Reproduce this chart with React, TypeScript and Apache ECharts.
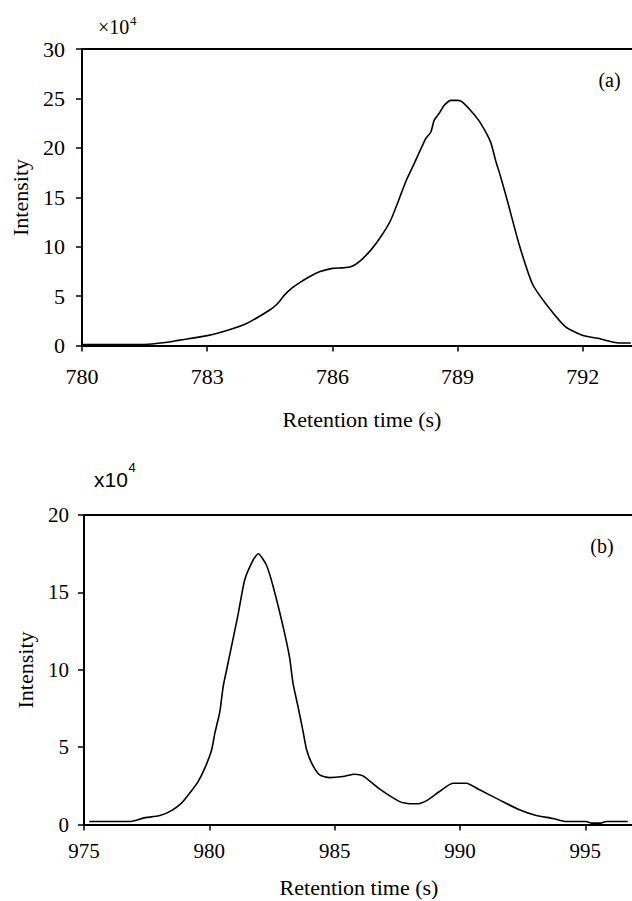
import React, { useEffect, useRef } from "react";
import * as echarts from "echarts";

// Panel (a)
const timeA = [780, 780.5, 781, 781.5, 782, 782.34, 783, 783.49, 783.93, 784.49, 784.69, 784.85, 785.05, 785.21, 785.45, 785.69, 786.0, 786.24, 786.44, 786.64, 786.92, 787.16, 787.4, 787.58, 787.76, 787.96, 788.24, 788.36, 788.44, 788.56, 788.68, 788.84, 789.0, 789.11, 789.35, 789.55, 789.79, 789.91, 790.03, 790.19, 790.47, 790.79, 791.11, 791.59, 791.99, 792.39, 792.86, 793.15];
const intensityA = [0.1, 0.1, 0.1, 0.1, 0.3, 0.54, 1.0, 1.55, 2.2, 3.57, 4.25, 5.1, 5.87, 6.34, 6.95, 7.45, 7.8, 7.85, 7.96, 8.46, 9.65, 11.0, 12.7, 14.6, 16.6, 18.4, 20.95, 21.6, 22.8, 23.5, 24.3, 24.8, 24.8, 24.65, 23.6, 22.5, 20.6, 18.75, 17.1, 14.7, 10.3, 6.27, 4.25, 1.88, 1.04, 0.7, 0.26, 0.26];
const xTicksA = [780, 783, 786, 789, 792];

// Panel (b)
const timeB = [975.21, 976.0, 976.83, 977.36, 978.03, 978.49, 978.89, 979.22, 979.55, 979.82, 980.09, 980.22, 980.42, 980.55, 980.69, 981.15, 981.41, 981.75, 981.95, 982.28, 982.55, 982.94, 983.2, 983.34, 983.54, 983.74, 983.87, 984.07, 984.4, 984.8, 985.33, 985.8, 986.13, 986.8, 987.59, 987.99, 988.32, 988.72, 989.18, 989.71, 990.25, 990.78, 991.57, 992.37, 993.04, 993.7, 994.23, 995.03, 995.23, 995.63, 995.83, 996.69];
const intensityB = [0.19, 0.19, 0.19, 0.41, 0.58, 0.9, 1.38, 2.03, 2.77, 3.64, 4.82, 5.9, 7.3, 8.9, 10.0, 13.6, 15.8, 17.1, 17.5, 16.75, 15.35, 12.8, 10.8, 9.1, 7.6, 6.0, 4.9, 4.0, 3.2, 3.03, 3.1, 3.25, 3.14, 2.28, 1.48, 1.34, 1.34, 1.59, 2.13, 2.67, 2.67, 2.24, 1.59, 0.95, 0.58, 0.39, 0.19, 0.19, 0.09, 0.09, 0.19, 0.19];
const xTicksB = [975, 980, 985, 990, 995];

const xTitle = "Retention time (s)";
const yTitle = "Intensity";

const SERIF = "Liberation Serif";
const SANS = "Liberation Sans";

export default function App() {
  const ref = useRef<HTMLDivElement>(null);
  useEffect(() => {
    if (!ref.current) return;
    const chart = echarts.init(ref.current, undefined, { renderer: "svg" });
    const line = { color: "#000", width: 2 };
    const bottomAxis = (grid: number, min: number, max: number, ticks: number[], fs: number, margin: number) => ({
      type: "value",
      gridIndex: grid,
      position: "bottom",
      min,
      max,
      axisLine: { show: true, onZero: false, lineStyle: line },
      axisTick: { show: true, length: 6, lineStyle: { color: "#000", width: 1.5 }, customValues: ticks },
      axisLabel: { show: true, customValues: ticks, color: "#000", fontFamily: SERIF, fontSize: fs, margin },
      splitLine: { show: false },
    });
    const topAxis = (grid: number, min: number, max: number) => ({
      type: "value",
      gridIndex: grid,
      position: "top",
      min,
      max,
      axisLine: { show: true, onZero: false, lineStyle: line },
      axisTick: { show: false },
      axisLabel: { show: false },
      splitLine: { show: false },
    });
    const leftAxis = (grid: number, max: number, interval: number, fs: number, margin: number) => ({
      type: "value",
      gridIndex: grid,
      min: 0,
      max,
      interval,
      axisLine: { show: true, lineStyle: line },
      axisTick: { show: true, length: 6, lineStyle: { color: "#000", width: 1.5 } },
      axisLabel: { color: "#000", fontFamily: SERIF, fontSize: fs, margin },
      splitLine: { show: false },
    });
    const txt = (text: string, x: number, y: number, size: number, family: string, align = "center", rotation = 0) => ({
      type: "text",
      x,
      y,
      rotation,
      style: { text, fontFamily: family, fontSize: size, fill: "#000", textAlign: align, textVerticalAlign: "middle" },
    });
    chart.setOption({
      animation: false,
      textStyle: { fontFamily: SERIF },
      grid: [
        { left: 82, top: 49, width: 551, height: 296.5 },
        { left: 84, top: 515, width: 549, height: 309.5 },
      ],
      xAxis: [
        bottomAxis(0, 780, 793.18, xTicksA, 22, 20),
        topAxis(0, 780, 793.18),
        bottomAxis(1, 975, 996.86, xTicksB, 21, 16),
        topAxis(1, 975, 996.86),
      ],
      yAxis: [leftAxis(0, 30, 5, 22, 17), leftAxis(1, 20, 5, 21, 15)],
      series: [
        {
          type: "line",
          xAxisIndex: 0,
          yAxisIndex: 0,
          data: timeA.map((t, i) => [t, intensityA[i]]),
          showSymbol: false,
          smooth: 0.2,
          lineStyle: { color: "#000", width: 1.6 },
        },
        {
          type: "line",
          xAxisIndex: 2,
          yAxisIndex: 1,
          data: timeB.map((t, i) => [t, intensityB[i]]),
          showSymbol: false,
          smooth: 0.2,
          lineStyle: { color: "#000", width: 1.6 },
        },
      ],
      graphic: [
        txt(xTitle, 362, 419, 22, SERIF),
        txt(xTitle, 359, 887, 22, SERIF),
        txt(yTitle, 20, 197.5, 22, SERIF, "center", Math.PI / 2),
        txt(yTitle, 25, 670, 22, SERIF, "center", Math.PI / 2),
        txt("(a)", 609.5, 79.5, 20, SERIF),
        txt("(b)", 602, 546, 20, SERIF),
        txt("×10", 98, 27, 20, SERIF, "left"),
        txt("4", 130, 20, 13, SERIF, "left"),
        txt("x10", 94, 479, 21, SANS, "left"),
        txt("4", 128.5, 467, 13, SANS, "left"),
      ],
    });
    return () => chart.dispose();
  }, []);
  return <div ref={ref} style={{ position: "absolute", left: 0, top: 0, width: 632, height: 901 }} />;
}
